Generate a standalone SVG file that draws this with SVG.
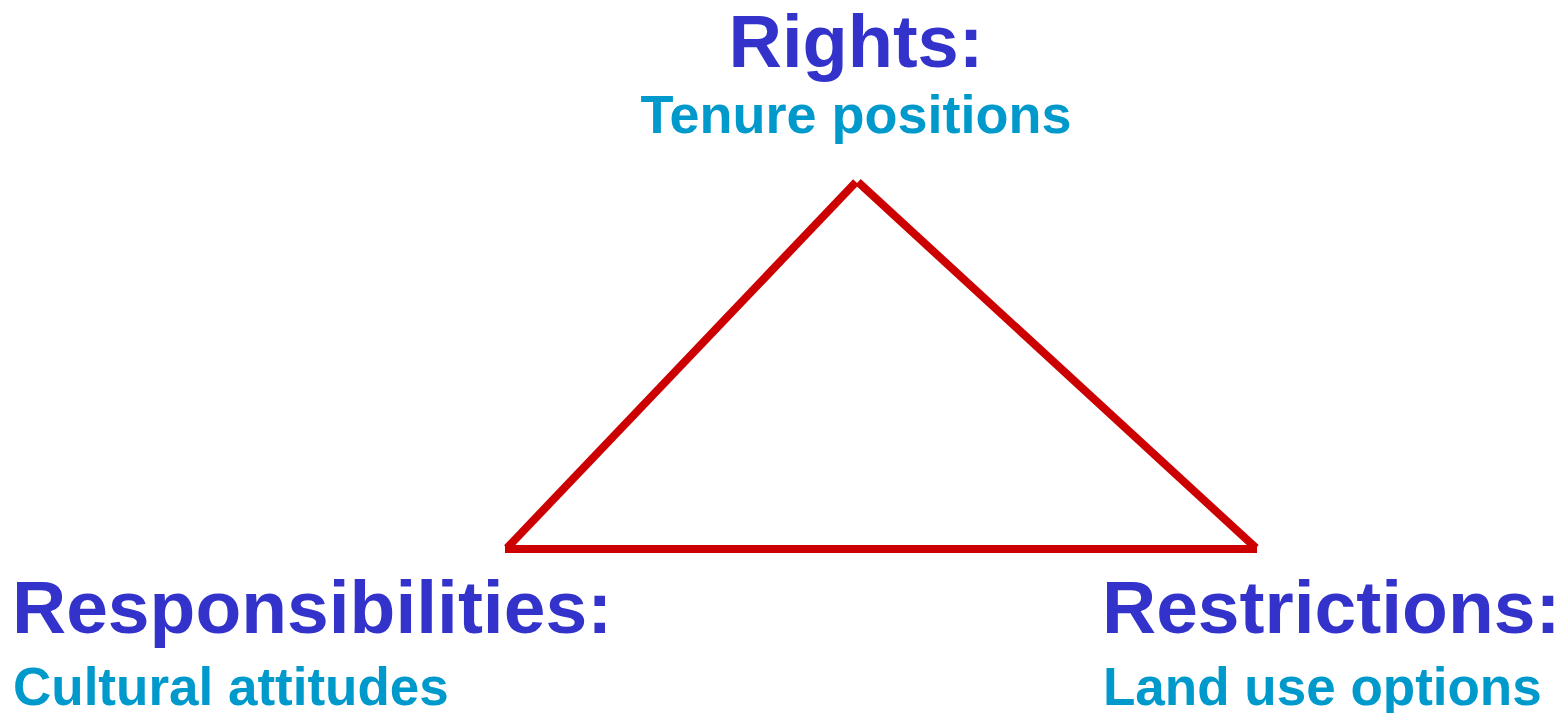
<svg xmlns="http://www.w3.org/2000/svg" width="1562" height="713" viewBox="0 0 1562 713">
<style>
.h{font-family:"Liberation Sans",Arial,sans-serif;font-weight:bold;font-size:75px;fill:#3333CC}
.s{font-family:"Liberation Sans",Arial,sans-serif;font-weight:bold;font-size:53px;fill:#0099CC}
.e{stroke:#CC0000;stroke-width:8;fill:none;stroke-linecap:butt}
</style>
<rect width="1562" height="713" fill="#FFFFFF"/>
<g id="connectors">
<line class="e" x1="507" y1="548" x2="856" y2="182"/>
<line class="e" x1="858" y1="182" x2="1256" y2="548"/>
<line class="e" x1="505" y1="549" x2="1257" y2="549"/>
</g>
<g id="rights">
<text class="h" x="856" y="67" text-anchor="middle" style="font-size:74px">Rights:</text>
<text class="s" x="856" y="133" text-anchor="middle" style="font-size:54px">Tenure positions</text>
</g>
<g id="responsibilities">
<text class="h" x="12" y="633">Responsibilities:</text>
<text class="s" x="13" y="705">Cultural attitudes</text>
</g>
<g id="restrictions">
<text class="h" x="1102" y="633">Restrictions:</text>
<text class="s" x="1103" y="705">Land use options</text>
</g>
</svg>
